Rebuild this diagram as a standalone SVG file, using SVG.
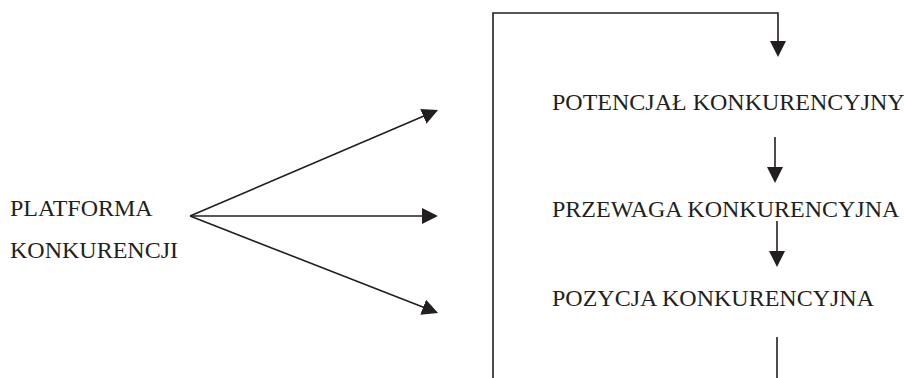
<svg xmlns="http://www.w3.org/2000/svg" width="904" height="378" viewBox="0 0 904 378">
  <style>
    .lbl { font-family: "Liberation Serif", "Times New Roman", serif; font-size: 24px; fill: #231f20; }
    .conn { fill: none; stroke: #231f20; stroke-width: 1.6; }
  </style>
  <defs>
    <marker id="head" markerUnits="userSpaceOnUse" markerWidth="16" markerHeight="16" refX="14" refY="8" orient="auto">
      <path d="M0,0 L16,8 L0,16 Z" fill="#231f20"/>
    </marker>
  </defs>

  <rect width="904" height="378" fill="#ffffff"/>

  <g id="platforma">
    <text class="lbl" x="10" y="216">PLATFORMA</text>
    <text class="lbl" x="10" y="258">KONKURENCJI</text>
  </g>

  <g id="potencjal">
    <text class="lbl" x="552" y="110">POTENCJAŁ KONKURENCYJNY</text>
  </g>

  <g id="przewaga">
    <text class="lbl" x="552" y="217">PRZEWAGA KONKURENCYJNA</text>
  </g>

  <g id="pozycja">
    <text class="lbl" x="552" y="306">POZYCJA KONKURENCYJNA</text>
  </g>

  <g id="connectors">
    <!-- fan of three arrows from the platform -->
    <path class="conn" d="M190,216 L436.2,110.8" marker-end="url(#head)"/>
    <path class="conn" d="M190,216 L436,216" marker-end="url(#head)"/>
    <path class="conn" d="M190,216 L436.2,312.3" marker-end="url(#head)"/>
    <!-- feedback loop into the top of the chain -->
    <path class="conn" d="M493,378 L493,13 L778,13 L778,55" marker-end="url(#head)"/>
    <!-- chain arrows -->
    <path class="conn" d="M775,137 L775,181" marker-end="url(#head)"/>
    <path class="conn" d="M777,221 L777,265" marker-end="url(#head)"/>
    <path class="conn" d="M777,337 L777,378"/>
  </g>
</svg>
